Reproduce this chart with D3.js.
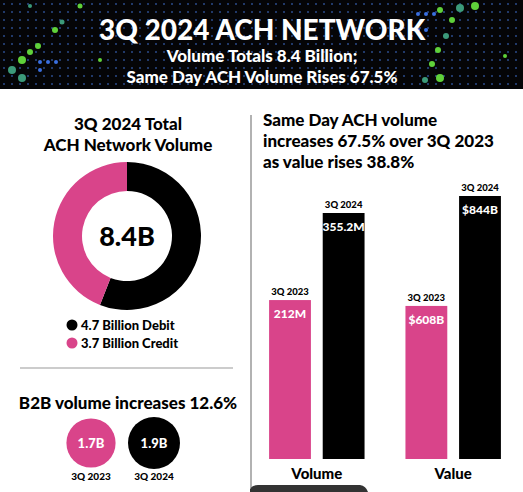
<!DOCTYPE html>
<html><head><meta charset="utf-8">
<script src="https://cdn.jsdelivr.net/npm/d3@7"></script>
<style>body{margin:0;background:#fff}svg{display:block;font-family:Lato,"Open Sans",sans-serif;font-weight:900}</style>
</head><body><svg id="c" width="523" height="492"></svg>
<script>
const donutCats=["Debit","Credit"];
const donutVals=[4.7,3.7];
const donutLabels=["4.7 Billion Debit","3.7 Billion Credit"];
const b2bYears=["3Q 2023","3Q 2024"];
const b2bVals=[1.7,1.9];
const b2bLabels=["1.7B","1.9B"];
const groups=["Volume","Value"];
const years=["3Q 2023","3Q 2024"];
const volumeVals=[212,355.2];
const valueVals=[608,844];
const volumeLabels=["212M","355.2M"];
const valueLabels=["$608B","$844B"];
const pink="#d9448a";
const svg=d3.select("#c");
// header
svg.append("rect").attr("width",523).attr("height",89).attr("fill","#050507");
const defs=svg.append("defs");
const pat=defs.append("pattern").attr("id","dots").attr("width",8).attr("height",8).attr("patternUnits","userSpaceOnUse");
pat.append("circle").attr("cx",4).attr("cy",4).attr("r",1).attr("fill","#2a4a8a");
svg.append("rect").attr("width",523).attr("height",89).attr("fill","url(#dots)");
const greens=[[12,70,4],[22,60,4],[30,52,3],[22,78,4],[38,46,3],[55,30,3],[62,22,2.5],[100,60,2],[440,10,3],[460,8,4],[475,6,4],[452,20,3],[446,36,3],[438,50,3],[432,64,3],[425,80,3],[440,78,4],[505,56,2],[30,6,2],[80,6,2.5]];
svg.selectAll("circle.g").data(greens).join("circle").attr("cx",d=>d[0]).attr("cy",d=>d[1]).attr("r",d=>d[2]).attr("fill",(d,i)=>i%3?"#5fd13a":"#3c9a7a");
const blues=[[40,62],[48,62],[56,62],[40,70],[418,14],[426,14],[434,14],[418,30],[426,30]];
svg.selectAll("circle.b").data(blues).join("circle").attr("cx",d=>d[0]).attr("cy",d=>d[1]).attr("r",2).attr("fill","#3a6fe0");
svg.append("text").attr("x",262).attr("y",40).attr("text-anchor","middle").attr("fill","#fff").attr("font-size",28).text("3Q 2024 ACH NETWORK");
svg.append("text").attr("x",262).attr("y",62).attr("text-anchor","middle").attr("fill","#fff").attr("font-size",17).text("Volume Totals 8.4 Billion;");
svg.append("text").attr("x",262).attr("y",83).attr("text-anchor","middle").attr("fill","#fff").attr("font-size",17).text("Same Day ACH Volume Rises 67.5%");
// left
svg.append("text").attr("x",128).attr("y",130).attr("text-anchor","middle").attr("font-size",17).text("3Q 2024 Total");
svg.append("text").attr("x",128).attr("y",151).attr("text-anchor","middle").attr("font-size",17).text("ACH Network Volume");
const pie=d3.pie().sort(null).value(d=>d)(donutVals);
const arc=d3.arc().innerRadius(45).outerRadius(74);
const g=svg.append("g").attr("transform","translate(127,236)");
g.selectAll("path").data(pie).join("path").attr("d",arc).attr("fill",(d,i)=>i?pink:"#000");
g.append("text").attr("y",10).attr("text-anchor","middle").attr("font-size",27).text("8.4B");
const lg=svg.selectAll("g.lg").data(donutLabels).join("g").attr("transform",(d,i)=>`translate(72,${325+i*18})`);
lg.append("circle").attr("r",5.5).attr("fill",(d,i)=>i?pink:"#000");
lg.append("text").attr("x",9).attr("y",5).attr("font-size",13).text(d=>d);
svg.append("line").attr("x1",20).attr("x2",233).attr("y1",368).attr("y2",368).attr("stroke","#bbb").attr("stroke-width",1.5);
svg.append("text").attr("x",128).attr("y",409).attr("text-anchor","middle").attr("font-size",17).text("B2B volume increases 12.6%");
const rs=d3.scaleSqrt().domain([0,1.9]).range([0,26]);
const bx=d3.scalePoint().domain(b2bYears).range([91,154]);
const bg=svg.selectAll("g.b2").data(b2bVals).join("g").attr("transform",(d,i)=>`translate(${bx(b2bYears[i])},443)`);
bg.append("circle").attr("r",d=>rs(d)).attr("fill",(d,i)=>i?"#000":pink);
bg.append("text").attr("y",5).attr("text-anchor","middle").attr("fill","#fff").attr("font-size",13).text((d,i)=>b2bLabels[i]);
bg.append("text").attr("y",37).attr("text-anchor","middle").attr("font-size",10).text((d,i)=>b2bYears[i]);
// divider
svg.append("line").attr("x1",251).attr("x2",251).attr("y1",115).attr("y2",488).attr("stroke","#999").attr("stroke-width",1.5);
svg.append("path").attr("d","M250,492 L250,489 Q252,485 258,485 L360,485 Q366,486 368,492Z").attr("fill","#333");
// right
["Same Day ACH volume","increases 67.5% over 3Q 2023","as value rises 38.8%"].forEach((t,i)=>
 svg.append("text").attr("x",263).attr("y",126+i*21).attr("font-size",17).text(t));
const x0=d3.scaleBand().domain(groups).range([265,505]).paddingInner(0.3).paddingOuter(0.03);
const x1=d3.scaleBand().domain(years).range([0,x0.bandwidth()]).paddingInner(0.22);
const base=459;
const yVol=d3.scaleLinear().domain([-49.4,355.2]).range([base,213]);
const yVal=d3.scaleLinear().domain([279.4,844]).range([base,196]);
const sets=[{g:"Volume",vals:volumeVals,labels:volumeLabels,y:yVol},{g:"Value",vals:valueVals,labels:valueLabels,y:yVal}];
sets.forEach(s=>{
 const gg=svg.append("g").attr("transform",`translate(${x0(s.g)},0)`);
 s.vals.forEach((v,i)=>{
  const xx=x1(years[i]),w=x1.bandwidth(),top=s.y(v);
  gg.append("rect").attr("x",xx).attr("y",top).attr("width",w).attr("height",base-top).attr("fill",i?"#000":pink);
  gg.append("text").attr("x",xx+w/2).attr("y",top-5).attr("text-anchor","middle").attr("font-size",9.5).text(years[i]);
  gg.append("text").attr("x",xx+w/2).attr("y",top+18).attr("text-anchor","middle").attr("fill","#fff").attr("font-size",12).text(s.labels[i]);
 });
 gg.append("text").attr("x",x0.bandwidth()/2).attr("y",479).attr("text-anchor","middle").attr("font-size",15).text(s.g);
});
</script></body></html>
